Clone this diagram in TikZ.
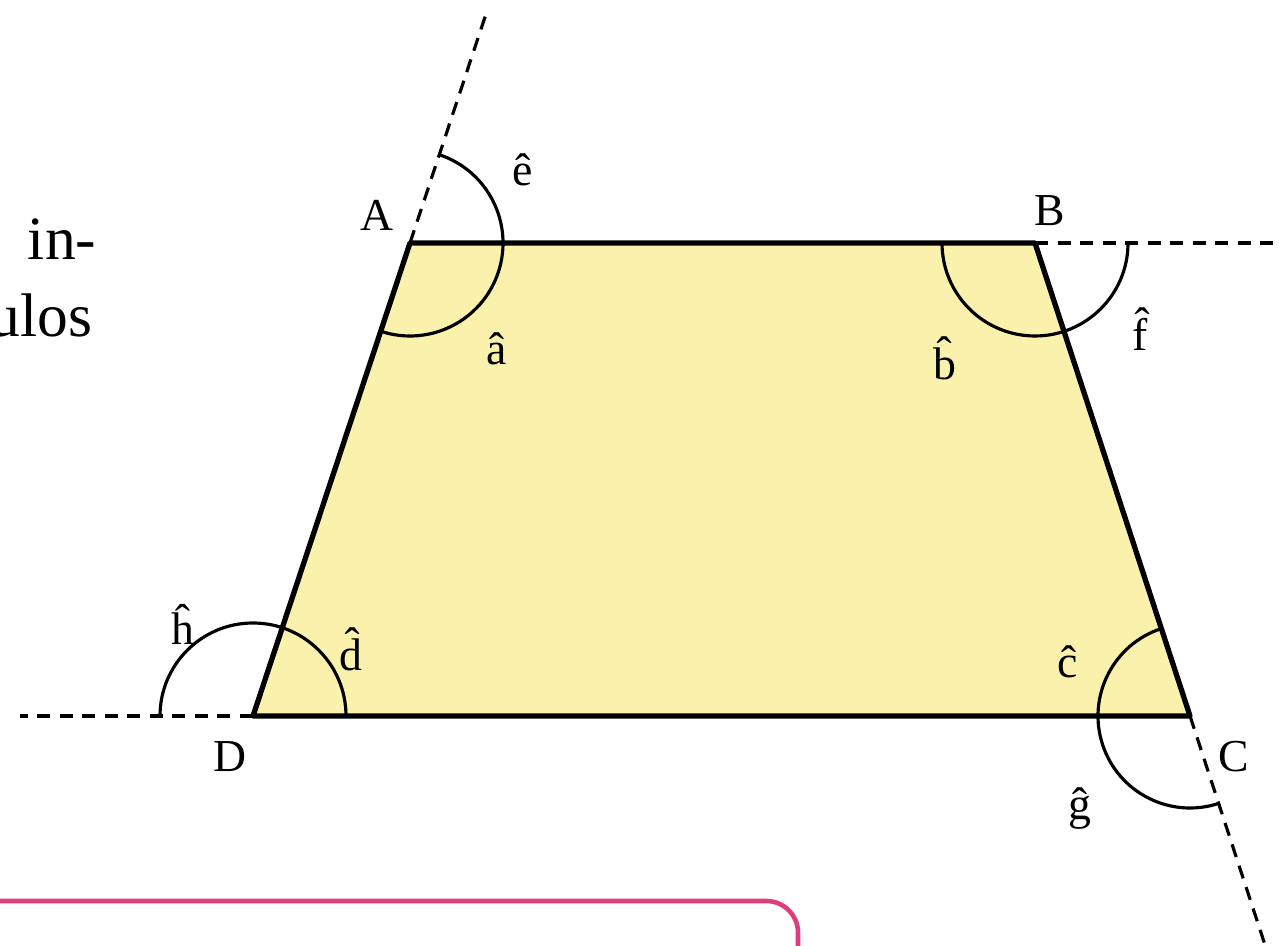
\documentclass[tikz,border=0pt]{standalone}
\usepackage{fontspec}
\setmainfont{Liberation Serif}
\usepackage{xcolor}
\definecolor{trapfill}{RGB}{250,242,172}
\definecolor{boxpink}{RGB}{222,62,125}

\begin{document}
\begin{tikzpicture}[
    x=0.01cm,y=0.01cm,
    side/.style={line width=1.5pt,line join=round},
    ext/.style={line width=0.9pt,dash pattern=on 3.8pt off 2.6pt},
    angarc/.style={line width=0.9pt},
    lbl/.style={font=\fontsize{13}{15}\selectfont,inner sep=0pt},
    body/.style={font=\fontsize{17.5}{21}\selectfont,inner sep=0pt},
    frame/.style={line width=1.3pt,draw=boxpink,rounded corners=9}
]
    \useasboundingbox (0,0) rectangle (1279,946);

    % Vertices of the trapezium and the far ends of the produced sides.
    \coordinate (A) at (410,703);
    \coordinate (B) at (1035,703);
    \coordinate (C) at (1190,230);
    \coordinate (D) at (253,230);
    \coordinate (Aext) at (487,935);
    \coordinate (Bext) at (1285,703);
    \coordinate (Cext) at (1266,-2);
    \coordinate (Dext) at (20,230);

    % Clipped text of the page around the figure.
    \node[body,anchor=base east] (line1) at (97,686) {in-};
    \node[body,anchor=base east] (line2) at (93,609) {ulos};
    \draw[frame] (-20,45) -- (798,45) -- (798,-30);

    % Produced sides.
    \draw[ext] (A) -- (Aext);
    \draw[ext] (B) -- (Bext);
    \draw[ext] (C) -- (Cext);
    \draw[ext] (D) -- (Dext);

    % The trapezium itself.
    \draw[side,fill=trapfill] (A) -- (B) -- (C) -- (D) -- cycle;

    % One half circle at each vertex marks interior and exterior angle.
    \draw[angarc] (A) ++(71.64:93) arc[start angle=71.64,end angle=-108.36,radius=93];
    \draw[angarc] (B) ++(180:93) arc[start angle=180,end angle=360,radius=93];
    \draw[angarc] (C) ++(108.14:92) arc[start angle=108.14,end angle=288.14,radius=92];
    \draw[angarc] (D) ++(0:93) arc[start angle=0,end angle=180,radius=93];

    % Vertex names.
    \node[lbl] (labA) at (377,731) {A};
    \node[lbl] (labB) at (1050,735) {B};
    \node[lbl] (labC) at (1234,189) {C};
    \node[lbl] (labD) at (230,189) {D};

    % Angle names.
    \node[lbl] (angE) at (523,776) {\^e};
    \node[lbl] (angA) at (497,597) {\^a};
    \node[lbl] (angB) at (945,588) {\^b};
    \node[lbl] (angF) at (1140,617) {\^f};
    \node[lbl] (angC) at (1068,284) {\^c};
    \node[lbl] (angD) at (351,297) {\^d};
    \node[lbl] (angH) at (183,322) {\^h};
    \node[lbl] (angG) at (1080,137) {\^g};
\end{tikzpicture}
\end{document}
